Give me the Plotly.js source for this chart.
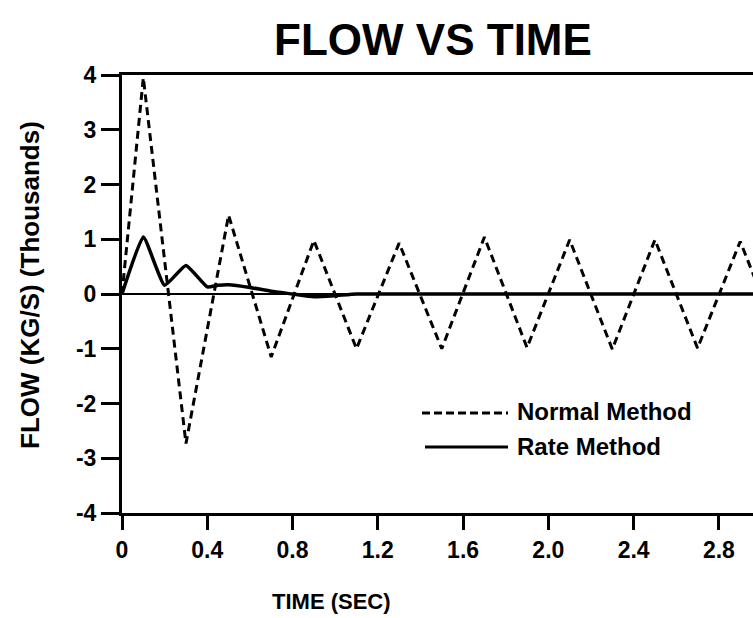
<!DOCTYPE html>
<html>
<head>
<meta charset="utf-8">
<script src="https://cdn.plot.ly/plotly-3.0.1.min.js"></script>
<style>html,body{margin:0;padding:0;background:#fff;}#chart{width:753px;height:618px;}</style>
</head>
<body>
<div id="chart"></div>
<script>
// Data (flow in thousands of kg/s)
const normalTime = [0, 0.1, 0.3, 0.5, 0.7, 0.9, 1.1, 1.3, 1.5, 1.7, 1.9, 2.1, 2.3, 2.5, 2.7, 2.9, 3.1];
const normalFlow = [0, 3.95, -2.73, 1.44, -1.15, 0.98, -1.0, 0.93, -1.0, 1.04, -0.98, 0.99, -1.01, 0.99, -0.99, 0.96, -1.0];
const rateTime = [0, 0.1, 0.2, 0.3, 0.4, 0.45, 0.5, 0.6, 0.7, 0.8, 0.9, 1.0, 1.1, 1.5, 2.0, 2.5, 3.0];
const rateFlow = [0, 1.04, 0.16, 0.52, 0.13, 0.16, 0.17, 0.12, 0.05, 0.0, -0.05, -0.03, 0, 0, 0, 0, 0];
const xTickVals = [0, 0.4, 0.8, 1.2, 1.6, 2.0, 2.4, 2.8];
const xTickText = ["0", "0.4", "0.8", "1.2", "1.6", "2.0", "2.4", "2.8"];
const yTickVals = [-4, -3, -2, -1, 0, 1, 2, 3, 4];
const yTickText = ["-4", "-3", "-2", "-1", "0", "1", "2", "3", "4"];
const seriesNames = ["Normal Method", "Rate Method"];

const FONT = "Liberation Sans, Arial, Helvetica, sans-serif";

const traces = [
  {x: normalTime, y: normalFlow, type: "scatter", mode: "lines", name: seriesNames[0],
   line: {color: "#000", width: 3, dash: "8px,5px"}, cliponaxis: true},
  {x: rateTime, y: rateFlow, type: "scatter", mode: "lines", name: seriesNames[1],
   line: {color: "#000", width: 3.5, shape: "spline", smoothing: 0.4}, cliponaxis: true}
];

const layout = {
  width: 753, height: 618,
  margin: {l: 122, r: 0, t: 75, b: 105},
  paper_bgcolor: "#fff", plot_bgcolor: "#fff",
  showlegend: false,
  font: {family: FONT, color: "#000", size: 22, weight: "bold"},
  title: {text: "FLOW VS TIME", x: 433/753, xref: "container", xanchor: "center",
          y: 1 - 40/618, yref: "container", yanchor: "middle",
          font: {family: FONT, size: 44, color: "#000", weight: "bold"}},
  xaxis: {range: [0, 2.96], showgrid: false, zeroline: false, showline: true, mirror: true,
          linecolor: "#000", linewidth: 3, ticks: "outside", ticklen: 14, tickwidth: 3, tickcolor: "#000",
          tickvals: xTickVals, ticktext: xTickText,
          tickfont: {family: FONT, size: 23, color: "#000", weight: "bold"}},
  yaxis: {range: [-4, 4], showgrid: false, zeroline: true, zerolinecolor: "#000", zerolinewidth: 2.5,
          showline: true, linecolor: "#000", linewidth: 3, ticks: "outside", ticklen: 18, tickwidth: 3,
          tickcolor: "#000", tickvals: yTickVals, ticktext: yTickText,
          tickfont: {family: FONT, size: 23, color: "#000", weight: "bold"}},
  annotations: [
    {text: "TIME (SEC)", xref: "paper", yref: "paper", x: (331-122)/631, y: (513-601)/438,
     xanchor: "center", yanchor: "middle", showarrow: false,
     font: {family: FONT, size: 22, color: "#000", weight: "bold"}},
    {text: "FLOW (KG/S) (Thousands)", xref: "paper", yref: "paper", x: (30-122)/631, y: (513-285)/438,
     xanchor: "center", yanchor: "middle", textangle: -90, showarrow: false,
     font: {family: FONT, size: 26, color: "#000", weight: "bold"}},
    {text: seriesNames[0], xref: "paper", yref: "paper", x: (515-122)/631, y: (513-411)/438,
     xanchor: "left", yanchor: "middle", showarrow: false,
     font: {family: FONT, size: 24, color: "#000", weight: "bold"}},
    {text: seriesNames[1], xref: "paper", yref: "paper", x: (515-122)/631, y: (513-446)/438,
     xanchor: "left", yanchor: "middle", showarrow: false,
     font: {family: FONT, size: 24, color: "#000", weight: "bold"}}
  ],
  shapes: [
    {type: "line", xref: "paper", yref: "paper", x0: (422-122)/631, x1: (508-122)/631,
     y0: (513-413)/438, y1: (513-413)/438, line: {color: "#000", width: 3, dash: "8px,4px"}},
    {type: "line", xref: "paper", yref: "paper", x0: (425-122)/631, x1: (508-122)/631,
     y0: (513-447)/438, y1: (513-447)/438, line: {color: "#000", width: 3}}
  ]
};

Plotly.newPlot("chart", traces, layout, {displayModeBar: false, staticPlot: true});
</script>
</body>
</html>
